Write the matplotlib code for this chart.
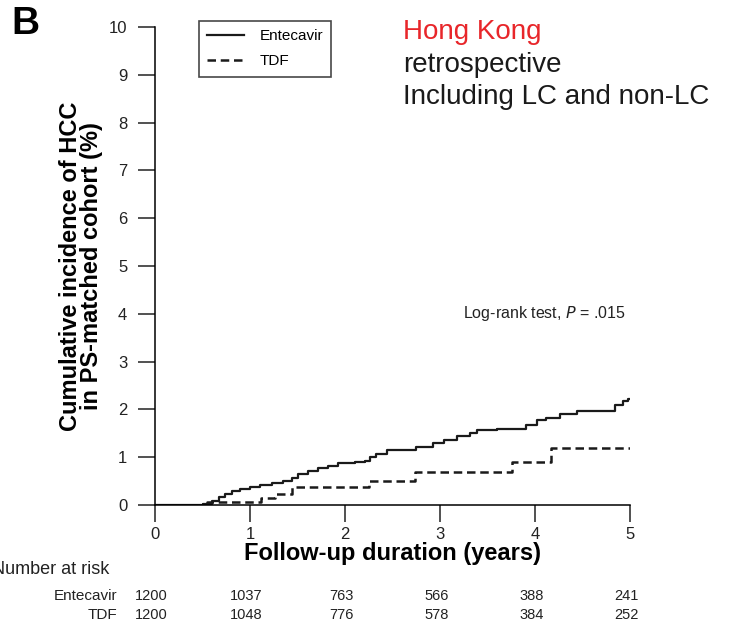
import numpy as np
import matplotlib.pyplot as plt
from matplotlib.transforms import blended_transform_factory

plt.rcParams['font.family'] = ['Liberation Sans', 'DejaVu Sans']

# Entecavir KM curve (years, cumulative incidence %)
etv_t = [0, 0.50, 0.60, 0.67, 0.74, 0.81, 0.89, 1.00, 1.10, 1.23, 1.35, 1.44, 1.51, 1.61,
         1.72, 1.82, 1.93, 2.11, 2.21, 2.26, 2.33, 2.44, 2.75, 2.93, 3.04, 3.18, 3.32,
         3.39, 3.60, 3.91, 4.02, 4.12, 4.26, 4.44, 4.84, 4.93, 4.98, 5.00]
etv_y = [0, 0.02, 0.09, 0.17, 0.24, 0.29, 0.34, 0.37, 0.42, 0.47, 0.51, 0.57, 0.64, 0.72,
         0.77, 0.82, 0.87, 0.89, 0.93, 1.01, 1.07, 1.15, 1.22, 1.29, 1.36, 1.45, 1.51,
         1.57, 1.60, 1.67, 1.78, 1.83, 1.90, 1.97, 2.09, 2.18, 2.21, 2.21]

# TDF KM curve
tdf_t = [0, 0.55, 1.12, 1.26, 1.44, 2.25, 2.74, 3.76, 4.17, 5.0]
tdf_y = [0, 0.07, 0.14, 0.24, 0.37, 0.51, 0.68, 0.91, 1.19, 1.19]

risk_times = [0, 1, 2, 3, 4, 5]
risk_etv = [1200, 1037, 763, 566, 388, 241]
risk_tdf = [1200, 1048, 776, 578, 384, 252]

fig = plt.figure(figsize=(7.32, 6.28), dpi=100)
ax = fig.add_axes([155 / 732, 1 - 505 / 628, 475 / 732, 478 / 628])

ax.step(etv_t, etv_y, where='post', color='#1a1a1a', lw=1.6, label='Entecavir')
ax.step(tdf_t, tdf_y, where='post', color='#1a1a1a', lw=1.8, dashes=(3.4, 1.9), label='TDF')

ax.set_xlim(0, 5)
ax.set_ylim(0, 10)
ax.set_xticks(range(6))
ax.set_yticks(range(11))
ax.spines['top'].set_visible(False)
ax.spines['right'].set_visible(False)
ax.tick_params(direction='out', length=12, width=1.1, labelsize=12, colors='#222222', pad=8)
ax.tick_params(axis='x', pad=4)
ax.spines['left'].set_linewidth(1.1)
ax.spines['bottom'].set_linewidth(1.1)

ax.set_xlabel('Follow-up duration (years)', fontsize=17, fontweight='bold', labelpad=0)
ax.set_ylabel('Cumulative incidence of HCC\nin PS-matched cohort (%)', fontsize=17,
              fontweight='bold', labelpad=4, linespacing=0.92)

leg = ax.legend(loc='upper left', bbox_to_anchor=(199 / 732, 1 - 21 / 628),
                bbox_transform=fig.transFigure, borderaxespad=0, fontsize=11,
                frameon=True, fancybox=False, edgecolor='#1a1a1a', handlelength=2.4,
                borderpad=0.55, labelspacing=0.7, handletextpad=1.0)
leg.get_frame().set_linewidth(1.2)

ax.text(0.99, 0.40, 'Log-rank test, $\\it{P}$ = .015', transform=ax.transAxes,
        ha='right', va='center', fontsize=11.5, color='#222222')

fig.text(11 / 732, 1 - 24 / 628, 'B', fontsize=28, fontweight='bold', va='center')
fig.text(403 / 732, 1 - 32 / 628, 'Hong Kong', fontsize=20, color='#e8262a', va='center')
fig.text(403 / 732, 1 - 65 / 628, 'retrospective', fontsize=20, color='#1a1a1a', va='center')
fig.text(403 / 732, 1 - 97 / 628, 'Including LC and non-LC', fontsize=20, color='#1a1a1a', va='center')

# number at risk table (left edge cut off, as in the reference)
fig.text(-8 / 732, 1 - 570 / 628, 'Number at risk', fontsize=13, va='center', color='#222222')
trans = blended_transform_factory(ax.transData, fig.transFigure)
for row_y, name, vals in [(596, 'Entecavir', risk_etv), (615, 'TDF', risk_tdf)]:
    fig.text(117 / 732, 1 - row_y / 628, name, fontsize=11, ha='right', va='center', color='#222222')
    for t, v in zip(risk_times, vals):
        ax.text(t - 0.04, 1 - row_y / 628, str(v), transform=trans, fontsize=10.5,
                ha='center', va='center', color='#222222', clip_on=False)

fig.savefig('out.png', dpi=100)
